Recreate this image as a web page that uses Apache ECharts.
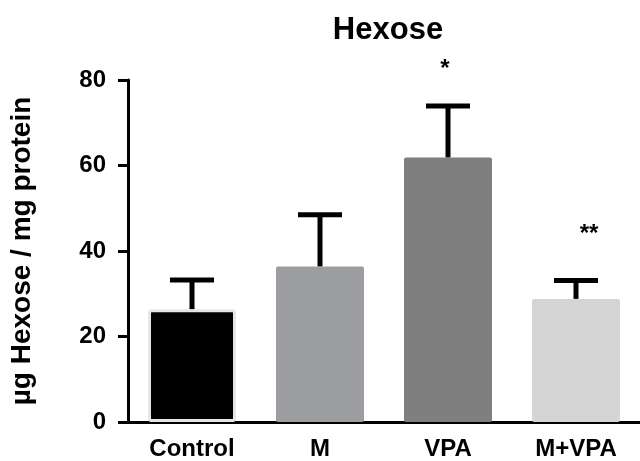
<!DOCTYPE html>
<html>
<head>
<meta charset="utf-8">
<script src="https://cdn.jsdelivr.net/npm/echarts@6/dist/echarts.min.js"></script>
<style>
  html, body { margin: 0; padding: 0; background: #fff; }
  #chart { width: 640px; height: 461px; }
</style>
</head>
<body>
<div id="chart"></div>
<script>
const categories = ['Control', 'M', 'VPA', 'M+VPA']
const means = [26.4, 36.4, 61.9, 28.8]
const sems = [6.8, 12.1, 12.0, 4.3]
const sigMarks = ['', '', '*', '**']
const sigLevel = [null, null, 82.5, 44]   // where the asterisks sit, in axis units
const yTicks = [0, 20, 40, 60, 80]
const barColors = ['#000000', '#9c9da1', '#7f7f7f', '#d4d4d4']

const font = 'Liberation Sans, Arial, Helvetica, sans-serif'
const chart = echarts.init(document.getElementById('chart'))

chart.setOption({
  animation: false,
  title: {
    text: 'Hexose',
    left: 383,
    top: 10,
    textAlign: 'center',
    textStyle: { fontFamily: font, fontSize: 31, fontWeight: 'bold', color: '#000' }
  },
  grid: { left: 128, right: 0, top: 80, bottom: 39 },
  xAxis: {
    type: 'category',
    data: categories,
    axisLine: { lineStyle: { color: '#000', width: 3 } },
    axisTick: { alignWithLabel: true, length: 10, lineStyle: { color: '#000', width: 3 } },
    axisLabel: { fontFamily: font, fontSize: 24, fontWeight: 'bold', color: '#000', margin: 15 }
  },
  yAxis: {
    type: 'value',
    min: yTicks[0],
    max: yTicks[yTicks.length - 1],
    interval: yTicks[1] - yTicks[0],
    name: 'µg Hexose / mg protein',
    nameLocation: 'middle',
    nameGap: 92,
    nameTextStyle: { fontFamily: font, fontSize: 28, fontWeight: 'bold', color: '#000' },
    splitLine: { show: false },
    axisLine: { show: true, lineStyle: { color: '#000', width: 3 } },
    axisTick: { show: true, length: 10, lineStyle: { color: '#000', width: 3 } },
    axisLabel: { fontFamily: font, fontSize: 24, fontWeight: 'bold', color: '#000', margin: 22 }
  },
  series: [
    {
      type: 'bar',
      barWidth: 88,
      data: means.map((v, i) => ({
        value: v,
        itemStyle: {
          color: barColors[i],
          borderRadius: 2,
          borderColor: i === 0 ? '#e4e6e8' : barColors[i],
          borderWidth: i === 0 ? 3 : 0
        }
      })),
      z: 2
    },
    {
      type: 'custom',
      z: 3,
      clip: false,
      data: means.map((v, i) => [i, v, v + sems[i], sigLevel[i]]),
      renderItem(params, api) {
        const i = api.value(0)
        const base = api.coord([i, api.value(1)])
        const top = api.coord([i, api.value(2)])
        const hw = 22
        const st = { stroke: '#000', lineWidth: 5 }
        const children = [
          { type: 'line', shape: { x1: base[0], y1: base[1], x2: top[0], y2: top[1] }, style: st },
          { type: 'line', shape: { x1: top[0] - hw, y1: top[1], x2: top[0] + hw, y2: top[1] }, style: st }
        ]
        if (sigMarks[params.dataIndex]) {
          const p = api.coord([i, api.value(3)])
          children.push({
            type: 'text',
            style: {
              text: sigMarks[params.dataIndex],
              x: p[0] + (params.dataIndex === 3 ? 13 : -3),
              y: p[1],
              align: 'center',
              verticalAlign: 'middle',
              fontFamily: font,
              fontSize: 24,
              fontWeight: 'bold',
              fill: '#000'
            }
          })
        }
        return { type: 'group', children }
      }
    }
  ]
})
</script>
</body>
</html>
